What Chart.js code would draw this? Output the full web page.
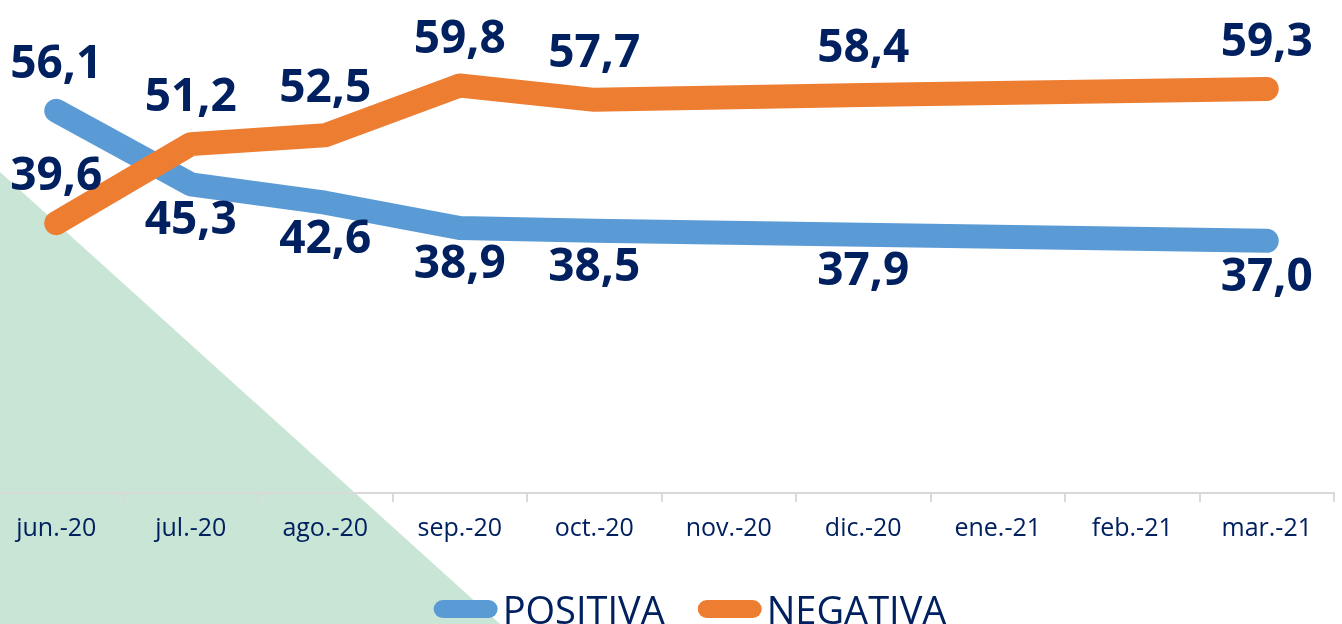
<!DOCTYPE html>
<html>
<head>
<meta charset="utf-8">
<script src="https://cdn.jsdelivr.net/npm/chart.js@4.4.1/dist/chart.umd.min.js"></script>
<style>
  html, body { margin: 0; padding: 0; width: 1342px; height: 624px; overflow: hidden; background: #ffffff; }
  #tri { position: absolute; left: 0; top: 0; width: 1342px; height: 624px; background: #C9E5D5;
         clip-path: polygon(0 172px, 500px 624px, 0 624px); }
  #c { position: absolute; left: -11px; top: 0; }
</style>
</head>
<body>
<div id="tri"></div>
<canvas id="c" width="1353" height="624"></canvas>
<script>
const categories = ['jun.-20', 'jul.-20', 'ago.-20', 'sep.-20', 'oct.-20', 'nov.-20', 'dic.-20', 'ene.-21', 'feb.-21', 'mar.-21'];
const positiva = [56.1, 45.3, 42.6, 38.9, 38.5, null, 37.9, null, null, 37.0];
const negativa = [39.6, 51.2, 52.5, 59.8, 57.7, null, 58.4, null, null, 59.3];
const seriesNames = ['POSITIVA', 'NEGATIVA'];

const NAVY = '#002060';
const BLUE = '#5B9BD5';
const ORANGE = '#ED7D31';

const valueLabels = {
  id: 'valueLabels',
  afterDatasetsDraw(chart) {
    const ctx = chart.ctx;
    const ds = chart.data.datasets;
    ctx.save();
    ctx.font = 'bold 46px "Open Sans"';
    ctx.fillStyle = NAVY;
    ctx.textAlign = 'center';
    ctx.textBaseline = 'alphabetic';
    ds.forEach((d, di) => {
      const meta = chart.getDatasetMeta(di);
      const other = ds[1 - di].data;
      d.data.forEach((v, i) => {
        if (v === null) return;
        const pt = meta.data[i];
        const above = di === 1 ? true : (other[i] !== null && v > other[i]);
        const y = above ? pt.y - 33 : pt.y + 50;
        ctx.fillText(v.toFixed(1).replace('.', ','), pt.x, y);
      });
    });
    ctx.restore();
  }
};

const pillLegend = {
  id: 'pillLegend',
  afterDraw(chart) {
    const ctx = chart.ctx;
    const ds = chart.data.datasets;
    ctx.save();
    ctx.font = '38px "Open Sans"';
    ctx.textBaseline = 'alphabetic';
    ctx.textAlign = 'left';
    const pillW = 64, pillH = 18, gapText = 5, gapItem = 33;
    let total = 0;
    ds.forEach((d, i) => { total += pillW + gapText + ctx.measureText(d.label).width + (i < ds.length - 1 ? gapItem : 0); });
    let x = 701 - total / 2;
    const yMid = 609;
    ds.forEach(d => {
      ctx.fillStyle = d.borderColor;
      ctx.beginPath();
      ctx.roundRect(x, yMid - pillH / 2, pillW, pillH, pillH / 2);
      ctx.fill();
      ctx.fillStyle = NAVY;
      ctx.fillText(d.label, x + pillW + gapText, 624);
      x += pillW + gapText + ctx.measureText(d.label).width + gapItem;
    });
    ctx.restore();
  }
};

function build() {
  new Chart(document.getElementById('c'), {
    type: 'line',
    data: {
      labels: categories,
      datasets: [
        { label: seriesNames[0], data: positiva, borderColor: BLUE, backgroundColor: BLUE, order: 1 },
        { label: seriesNames[1], data: negativa, borderColor: ORANGE, backgroundColor: ORANGE, order: 0 }
      ]
    },
    options: {
      responsive: false,
      animation: false,
      devicePixelRatio: 1,
      spanGaps: true,
      layout: { padding: { top: 16, right: 8, bottom: 68, left: 0 } },
      elements: {
        line: { borderWidth: 24, tension: 0, borderCapStyle: 'round', borderJoinStyle: 'round' },
        point: { radius: 0, hoverRadius: 0 }
      },
      plugins: { legend: { display: false }, tooltip: { enabled: false } },
      scales: {
        x: {
          offset: true,
          grid: { offset: true, drawOnChartArea: false, drawTicks: true, tickLength: 9, color: '#D9D9D9', lineWidth: 2 },
          border: { display: true, color: '#D9D9D9', width: 2 },
          ticks: { color: NAVY, font: { family: '"Open Sans"', size: 25 }, padding: 12, maxRotation: 0, autoSkip: false }
        },
        y: { display: false, min: 0, max: 70 }
      }
    },
    plugins: [valueLabels, pillLegend]
  });
}

Promise.all([
  document.fonts.load('bold 46px "Open Sans"'),
  document.fonts.load('38px "Open Sans"'),
  document.fonts.load('25px "Open Sans"')
]).then(build, build);
</script>
</body>
</html>
